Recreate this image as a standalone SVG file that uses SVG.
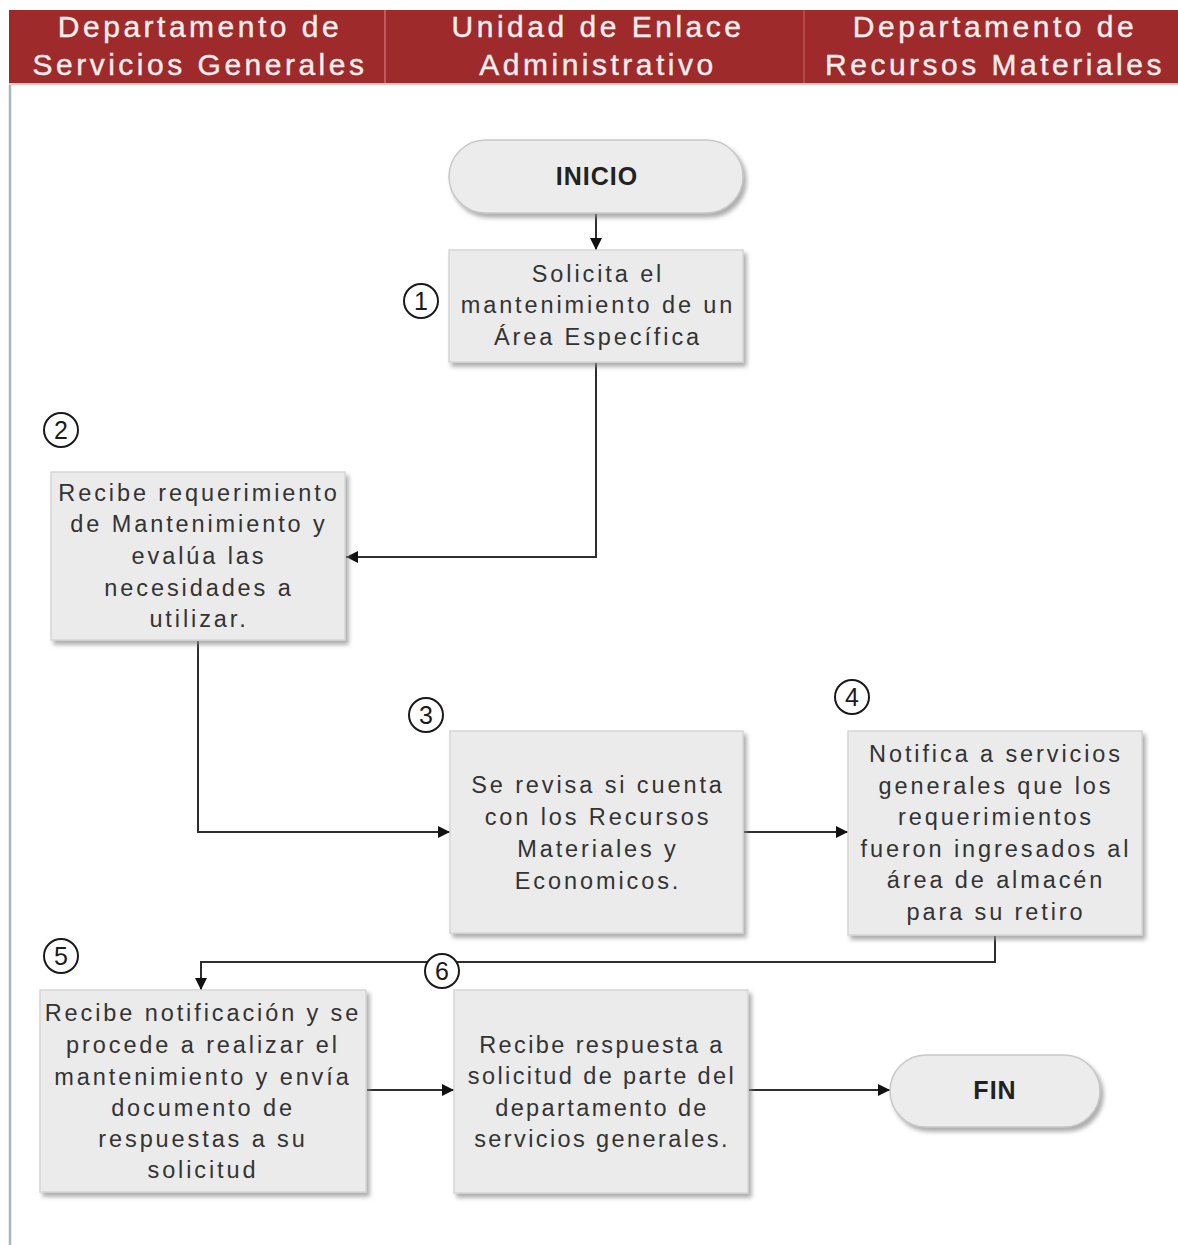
<svg xmlns="http://www.w3.org/2000/svg" width="1178" height="1245" viewBox="0 0 1178 1245">
  <style>
    .lane-title { font-family: "Liberation Sans", Arial, sans-serif; font-size: 30px; fill: #f6eeee; letter-spacing: 3.5px; text-anchor: middle; stroke: #f6eeee; stroke-width: 0.4; }
    .box { fill: #ebebeb; stroke: #d6d6d6; stroke-width: 1.5; filter: url(#shadow); }
    .pill { fill: #ececec; stroke: #c8c8c8; stroke-width: 1.5; filter: url(#shadow); }
    .label { font-family: "Liberation Sans", Arial, sans-serif; font-size: 23.5px; fill: #333333; letter-spacing: 2.9px; text-anchor: middle; }
    .narrow { letter-spacing: 2.4px; }
    .term { font-family: "Liberation Sans", Arial, sans-serif; font-size: 25px; font-weight: bold; fill: #222222; letter-spacing: 1px; text-anchor: middle; }
    .step circle { fill: #ffffff; stroke: #1a1a1a; stroke-width: 2; }
    .step text { font-family: "Liberation Sans", Arial, sans-serif; font-size: 25px; fill: #1a1a1a; text-anchor: middle; }
    .edge { fill: none; stroke: #2e2e2e; stroke-width: 2; marker-end: url(#arrow); }
  </style>
  <defs>
    <filter id="shadow" x="-10%" y="-10%" width="125%" height="130%">
      <feDropShadow dx="3" dy="4" stdDeviation="2" flood-color="#8a8a8a" flood-opacity="0.7"/>
    </filter>
    <marker id="arrow" viewBox="0 0 12 12" refX="12" refY="6" markerWidth="12" markerHeight="12" markerUnits="userSpaceOnUse" orient="auto">
      <path d="M0,0 L12,6 L0,12 Z" fill="#111111"/>
    </marker>
  </defs>

  <rect width="1178" height="1245" fill="#ffffff"/>

  <!-- swimlane header -->
  <g id="lanes">
    <rect x="9" y="10" width="1169" height="73" fill="#9e2a2b"/>
    <line x1="385" y1="10" x2="385" y2="83" stroke="#c05a5a" stroke-width="2"/>
    <line x1="804" y1="10" x2="804" y2="83" stroke="#b24848" stroke-width="2"/>
    <line x1="9" y1="84" x2="1178" y2="84" stroke="#e9c9c9" stroke-width="2"/>
    <line x1="10" y1="85" x2="10" y2="1245" stroke="#a7b8bc" stroke-width="2.5"/>
    <text class="lane-title" x="200" y="37">Departamento de</text>
    <text class="lane-title" x="200" y="75">Servicios Generales</text>
    <text class="lane-title" x="598" y="37">Unidad de Enlace</text>
    <text class="lane-title" x="598" y="75">Administrativo</text>
    <text class="lane-title" x="995" y="37">Departamento de</text>
    <text class="lane-title" x="995" y="75">Recursos Materiales</text>
  </g>

  <!-- connectors -->
  <g id="connectors">
    <path class="edge" d="M596,214 L596,250"/>
    <path class="edge" d="M596,363 L596,557 L346,557"/>
    <path class="edge" d="M198,641 L198,832 L450,832"/>
    <path class="edge" d="M744,832 L848,832"/>
    <path class="edge" d="M995,936 L995,962 L201,962 L201,990"/>
    <path class="edge" d="M367,1090 L454,1090"/>
    <path class="edge" d="M749,1090 L890,1090"/>
  </g>

  <g id="inicio">
    <rect class="pill" x="449" y="140" width="294" height="73" rx="36.5"/>
    <text class="term" x="597" y="185">INICIO</text>
  </g>

  <g id="paso1">
    <rect class="box" x="449" y="250" width="294" height="112"/>
    <text class="label" x="598" y="282">Solicita el</text>
    <text class="label" x="598" y="313">mantenimiento de un</text>
    <text class="label" x="598" y="345">Área Específica</text>
    <g class="step"><circle cx="421" cy="301" r="17"/><text x="421" y="310">1</text></g>
  </g>

  <g id="paso2">
    <rect class="box" x="51" y="472" width="294" height="168"/>
    <text class="label" x="199" y="501">Recibe requerimiento</text>
    <text class="label" x="199" y="532">de Mantenimiento y</text>
    <text class="label" x="199" y="564">evalúa las</text>
    <text class="label" x="199" y="596">necesidades a</text>
    <text class="label" x="199" y="627">utilizar.</text>
    <g class="step"><circle cx="61" cy="430" r="17"/><text x="61" y="439">2</text></g>
  </g>

  <g id="paso3">
    <rect class="box" x="450" y="731" width="293" height="202"/>
    <text class="label" x="598" y="793">Se revisa si cuenta</text>
    <text class="label" x="598" y="825">con los Recursos</text>
    <text class="label" x="598" y="857">Materiales y</text>
    <text class="label" x="598" y="889">Economicos.</text>
    <g class="step"><circle cx="426" cy="715" r="17"/><text x="426" y="724">3</text></g>
  </g>

  <g id="paso4">
    <rect class="box" x="848" y="731" width="294" height="204"/>
    <text class="label" x="996" y="762">Notifica a servicios</text>
    <text class="label" x="996" y="794">generales que los</text>
    <text class="label" x="996" y="825">requerimientos</text>
    <text class="label" x="996" y="857">fueron ingresados al</text>
    <text class="label" x="996" y="888">área de almacén</text>
    <text class="label" x="996" y="920">para su retiro</text>
    <g class="step"><circle cx="852" cy="697" r="17"/><text x="852" y="706">4</text></g>
  </g>

  <g id="paso5">
    <rect class="box" x="40" y="990" width="326" height="202"/>
    <text class="label" x="203" y="1021">Recibe notificación y se</text>
    <text class="label" x="203" y="1053">procede a realizar el</text>
    <text class="label" x="203" y="1085">mantenimiento y envía</text>
    <text class="label" x="203" y="1116">documento de</text>
    <text class="label" x="203" y="1147">respuestas a su</text>
    <text class="label" x="203" y="1178">solicitud</text>
    <g class="step"><circle cx="61" cy="956" r="17"/><text x="61" y="965">5</text></g>
  </g>

  <g id="paso6">
    <rect class="box" x="454" y="990" width="294" height="203"/>
    <text class="label narrow" x="602" y="1053">Recibe respuesta a</text>
    <text class="label narrow" x="602" y="1084">solicitud de parte del</text>
    <text class="label narrow" x="602" y="1116">departamento de</text>
    <text class="label narrow" x="602" y="1147">servicios generales.</text>
    <g class="step"><circle cx="442" cy="971" r="17"/><text x="442" y="980">6</text></g>
  </g>

  <g id="fin">
    <rect class="pill" x="890" y="1055" width="210" height="72" rx="36"/>
    <text class="term" x="995" y="1099">FIN</text>
  </g>
</svg>
